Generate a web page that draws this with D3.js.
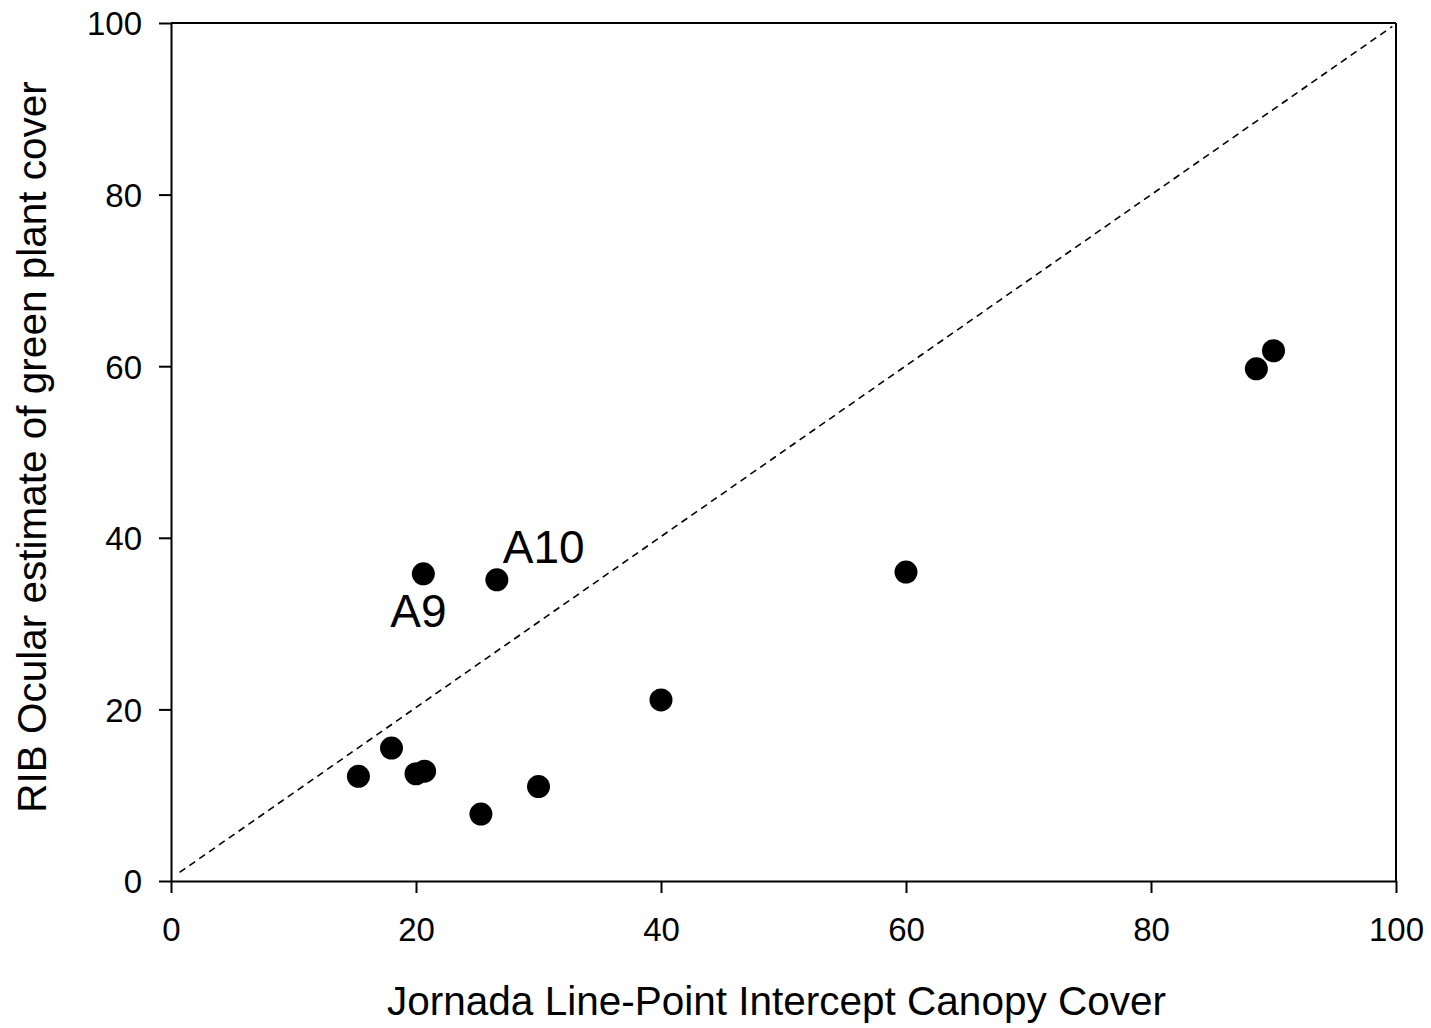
<!DOCTYPE html>
<html>
<head>
<meta charset="utf-8">
<script src="https://cdn.jsdelivr.net/npm/d3@7"></script>
<style>
  body { margin: 0; background: #fff; }
  text { font-family: Arial, "Liberation Sans", sans-serif; fill: #000; }
</style>
</head>
<body>
<div id="chart"></div>
<script>
// Data
const lpiCover = [15.3, 18.0, 20.0, 20.7, 20.6, 25.3, 26.6, 30.0, 40.0, 60.0, 88.6, 90.0];
const ocularCover = [12.2, 15.5, 12.5, 12.8, 35.8, 7.8, 35.1, 11.0, 21.1, 36.0, 59.7, 61.8];
const pointLabels = ["", "", "", "", "A9", "", "A10", "", "", "", "", ""];
const tickValues = [0, 20, 40, 60, 80, 100];
const xTitle = "Jornada Line-Point Intercept Canopy Cover";
const yTitle = "RIB Ocular estimate of green plant cover";

const data = lpiCover.map((x, i) => ({ x: x, y: ocularCover[i], label: pointLabels[i] }));

let width = 1431, height = 1028;
let margin = { top: 23, bottom: 147, left: 171, right: 35 };

let svg = d3.select('#chart')
    .append('svg')
    .attr('width', width)
    .attr('height', height);

const xScale = d3.scaleLinear()
    .domain([0, 100])
    .range([margin.left, width - margin.right]);

const yScale = d3.scaleLinear()
    .domain([0, 100])
    .range([height - margin.bottom, margin.top]);

// Frame (top and right, no ticks)
svg.append('line')
    .attr('x1', xScale(0)).attr('x2', xScale(100))
    .attr('y1', yScale(100)).attr('y2', yScale(100))
    .attr('stroke', 'black').attr('stroke-width', 2);
svg.append('line')
    .attr('x1', xScale(100)).attr('x2', xScale(100))
    .attr('y1', yScale(0)).attr('y2', yScale(100))
    .attr('stroke', 'black').attr('stroke-width', 2);

// Axes
let xaxis = svg.append('g')
    .attr('transform', `translate(0,${yScale(0)})`)
    .call(d3.axisBottom(xScale).tickValues(tickValues).tickSize(12).tickSizeOuter(0).tickPadding(25));

let yaxis = svg.append('g')
    .attr('transform', `translate(${xScale(0)},0)`)
    .call(d3.axisLeft(yScale).tickValues(tickValues).tickSize(12).tickSizeOuter(0).tickPadding(17));

[xaxis, yaxis].forEach(ax => {
    ax.select('.domain').attr('stroke-width', 2);
    ax.selectAll('.tick line').attr('stroke-width', 2);
    ax.selectAll('.tick text')
        .style('font-size', '33px')
        .style('font-family', 'Arial, "Liberation Sans", sans-serif');
});
yaxis.selectAll('.tick text').attr('dy', '0.36em');

// 1:1 line
svg.append('line')
    .attr('x1', xScale(0.7)).attr('y1', yScale(1.0))
    .attr('x2', xScale(99.7)).attr('y2', yScale(99.6))
    .attr('stroke', 'black')
    .attr('stroke-width', 1.6)
    .attr('stroke-dasharray', '7,5');

// Points
svg.selectAll('circle.pt')
    .data(data)
    .enter()
    .append('circle')
    .attr('class', 'pt')
    .attr('cx', d => xScale(d.x))
    .attr('cy', d => yScale(d.y))
    .attr('r', 11.5)
    .attr('fill', 'black');

// Point annotations
const labelOffset = { "A9": [-33, 53], "A10": [6, -17] };
svg.selectAll('text.pt-label')
    .data(data.filter(d => d.label))
    .enter()
    .append('text')
    .attr('class', 'pt-label')
    .attr('x', d => xScale(d.x) + labelOffset[d.label][0])
    .attr('y', d => yScale(d.y) + labelOffset[d.label][1])
    .style('font-size', '46px')
    .text(d => d.label);

// Axis titles
svg.append('text')
    .attr('x', (xScale(0) + xScale(100)) / 2 - 7)
    .attr('y', 1015)
    .attr('text-anchor', 'middle')
    .style('font-size', '40.5px')
    .text(xTitle);

svg.append('text')
    .attr('transform', `translate(46,${(yScale(0) + yScale(100)) / 2 - 5}) rotate(-90)`)
    .attr('text-anchor', 'middle')
    .style('font-size', '40.5px')
    .text(yTitle);
</script>
</body>
</html>
